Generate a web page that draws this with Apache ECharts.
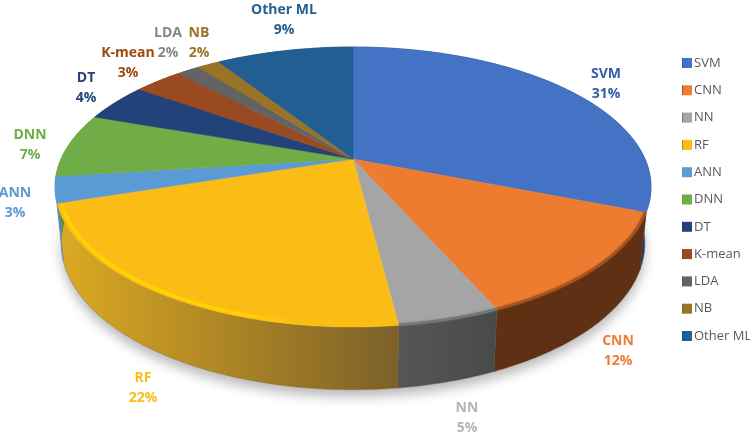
<!DOCTYPE html>
<html>
<head>
<meta charset="utf-8">
<style>
  html, body { margin: 0; padding: 0; background: #fff; }
  #chart { width: 750px; height: 437px; }
</style>
<script src="https://cdn.jsdelivr.net/npm/echarts@6/dist/echarts.min.js"></script>
</head>
<body>
<div id="chart"></div>
<script>
const categories = ['SVM', 'CNN', 'NN', 'RF', 'ANN', 'DNN', 'DT', 'K-mean', 'LDA', 'NB', 'Other ML']
const values = [31, 12.4, 4.6, 22, 3, 7.4, 4.4, 3.2, 1.5, 1.5, 9]

const topColors = ['#4472C4', '#ED7B30', '#A5A5A5', '#FBBC15', '#5B9BD5', '#70AD47', '#22427A', '#9A4A21', '#636363', '#997327', '#215E91']
const labelColors = ['#2F5FA8', '#ED7D31', '#B4B4B4', '#FBBC15', '#5B9BD5', '#70AD47', '#264478', '#9E480E', '#858585', '#997327', '#255E91']
const wallLeft = ['#1F3C70', '#5F3013', '#555757', '#DCAA22', '#4F8CC4', '#5C8F3A', '#1A3260', '#7A3A14', '#4C4C4C', '#7A5C1E', '#1A4A74']
const wallRight = ['#1F3C70', '#5F3013', '#484A4A', '#7C6029', '#4F8CC4', '#5C8F3A', '#1A3260', '#7A3A14', '#4C4C4C', '#7A5C1E', '#1A4A74']
const labelCentres = [[606, 84], [618, 351], [467, 418], [143, 388], [15, 203], [30, 145], [86, 88], [128, 63], [168, 43], [199, 43], [284, 20]]

// perspective of the tilted disc, fitted to the picture
const tilt = 0.2
const bottomRing = { sx: 0.979, y0: 0.409, sy: 1.046 }

const ringPoint = (api, pct, ring) => {
  const a = (pct / 100) * Math.PI * 2
  const w = 1 + tilt * Math.cos(a)
  const x = Math.sin(a) / w
  const y = -Math.cos(a) / w
  if (ring === 'bottom') {
    return api.coord([bottomRing.sx * x, bottomRing.y0 + bottomRing.sy * y])
  }
  return api.coord([x * ring, y * ring])
}

const arcPoints = (api, from, to, ring) => {
  const steps = Math.max(2, Math.ceil((to - from) * 4))
  const pts = []
  for (let i = 0; i <= steps; i++) {
    pts.push(ringPoint(api, from + ((to - from) * i) / steps, ring))
  }
  return pts
}

let running = 0
const slices = values.map((val) => {
  const slice = [running, running + val]
  running += val
  return slice
})

const horizontal = (x0, x1, stops) => new echarts.graphic.LinearGradient(x0, 0, x1, 0, stops, true)

const renderWall = (params, api) => {
  const i = params.dataIndex
  const from = api.value(0)
  const to = api.value(1)
  const upper = arcPoints(api, from, to, 1)
  const lower = arcPoints(api, from, to, 'bottom')
  const xs = upper.map((p) => p[0])
  return {
    type: 'polygon',
    shape: { points: upper.concat(lower.reverse()) },
    style: {
      fill: horizontal(Math.min(...xs), Math.max(...xs), [
        { offset: 0, color: wallLeft[i] },
        { offset: 1, color: wallRight[i] }
      ]),
      stroke: wallRight[i],
      lineWidth: 0.5
    }
  }
}

const renderShadow = (params, api) => ({
  type: 'polygon',
  shape: { points: arcPoints(api, 0, 100, 'bottom') },
  style: {
    fill: '#ffffff',
    shadowColor: 'rgba(0,0,0,0.28)',
    shadowBlur: 12,
    shadowOffsetY: 7
  }
})

const renderTop = (index) => (params, api) => {
  const from = api.value(0)
  const to = api.value(1)
  const centre = api.coord([0, 0])
  const children = [
    {
      type: 'polygon',
      shape: { points: [centre].concat(arcPoints(api, from, to, 1)) },
      style: { fill: topColors[index], stroke: topColors[index], lineWidth: 0.5 }
    }
  ]
  if (index === 3) {
    children.push({
      type: 'polyline',
      shape: { points: arcPoints(api, from + 0.4, to - 0.15, 0.985) },
      style: {
        fill: null,
        lineWidth: 2.5,
        stroke: horizontal(60, 300, [
          { offset: 0, color: '#FFD400' },
          { offset: 0.75, color: '#FFD400' },
          { offset: 1, color: topColors[3] }
        ]),
        shadowColor: '#FFD400',
        shadowBlur: 2
      }
    })
  }
  if (index === 1 || index === 2) {
    const edge = index === 1 ? '#A4551F' : '#757676'
    children.push({
      type: 'polyline',
      shape: { points: arcPoints(api, from, to, 0.997) },
      style: { fill: null, lineWidth: 2.5, stroke: edge, shadowColor: edge, shadowBlur: 2 }
    })
  }
  const [lx, ly] = labelCentres[index]
  children.push({
    type: 'text',
    x: lx,
    y: ly,
    style: {
      text: categories[index] + '\n' + Math.round(values[index]) + '%',
      fill: labelColors[index],
      font: '700 14px "Open Sans"',
      align: 'center',
      verticalAlign: 'middle',
      lineHeight: 20
    }
  })
  return { type: 'group', children }
}

const chart = echarts.init(document.getElementById('chart'), null, { renderer: 'canvas' })

chart.setOption({
  animation: false,
  backgroundColor: '#ffffff',
  grid: { left: 31.8, top: 24.6, width: 642.4, height: 403.2 },
  xAxis: { type: 'value', min: -1.1, max: 1.1, show: false },
  yAxis: { type: 'value', min: -1, max: 2, inverse: true, show: false },
  legend: {
    orient: 'vertical',
    left: 682,
    top: 54,
    padding: 0,
    itemWidth: 10,
    itemHeight: 10,
    itemGap: 9.3,
    itemStyle: { borderWidth: 0 },
    selectedMode: false,
    textStyle: { color: '#595959', fontSize: 13, fontFamily: 'Open Sans', padding: [0, 0, 0, -3], lineHeight: 18 },
    data: categories.map((name, i) => ({
      name,
      icon: 'rect',
      itemStyle: {
        color: horizontal(0, 1, [
          { offset: 0, color: wallRight[i] },
          { offset: 1, color: topColors[i] }
        ])
      }
    }))
  },
  series: [
    {
      name: 'shadow',
      type: 'custom',
      z: 1,
      silent: true,
      clip: false,
      data: [[0, 0]],
      renderItem: renderShadow
    },
    {
      name: 'walls',
      type: 'custom',
      z: 2,
      silent: true,
      clip: false,
      data: slices,
      renderItem: renderWall
    },
    ...categories.map((name, i) => ({
      name,
      type: 'custom',
      z: 3,
      silent: true,
      clip: false,
      itemStyle: { color: topColors[i] },
      data: [slices[i]],
      renderItem: renderTop(i)
    }))
  ]
})
</script>
</body>
</html>
